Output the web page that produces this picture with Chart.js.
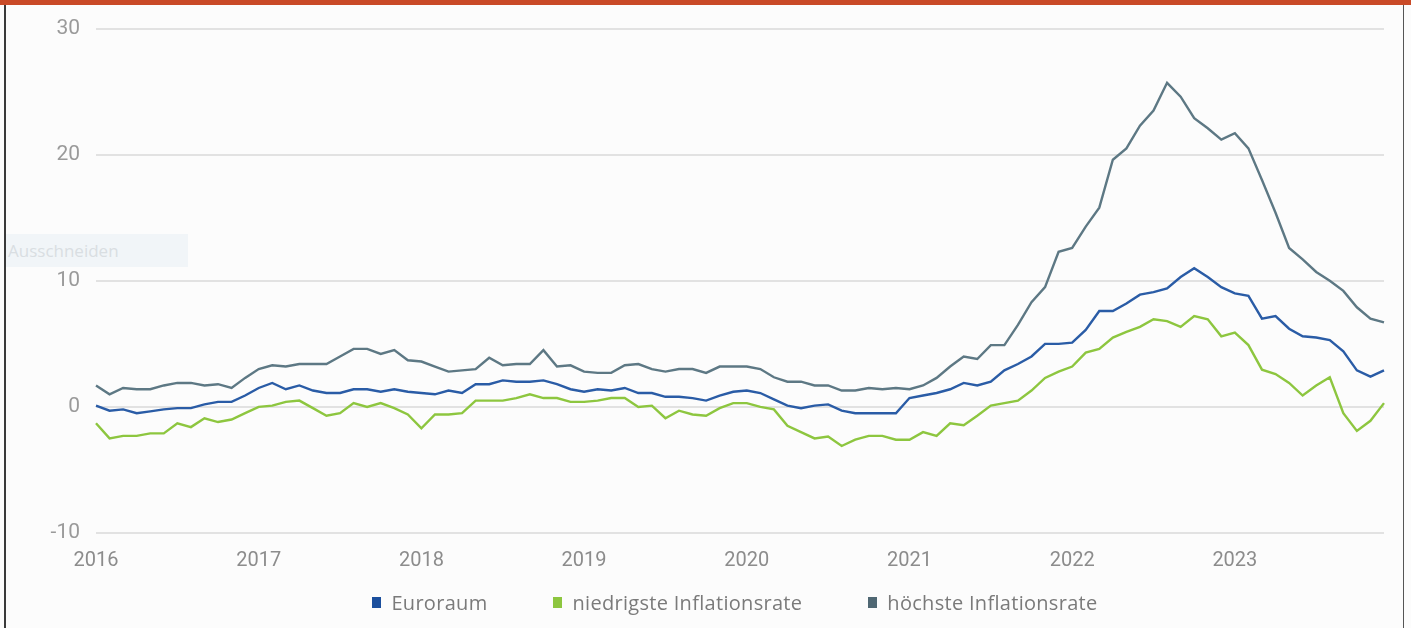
<!DOCTYPE html>
<html>
<head>
<meta charset="utf-8">
<script src="https://cdn.jsdelivr.net/npm/chart.js@4/dist/chart.umd.min.js"></script>
<style>
  html, body { margin: 0; padding: 0; background: #ffffff; }
  #frame { position: relative; width: 1411px; height: 628px; background: #fcfcfc; overflow: hidden; }
  #topbar { position: absolute; left: 0; top: 0; width: 1411px; height: 5px; background: #c94a27; }
  #lborder { position: absolute; left: 4px; top: 5px; width: 2px; height: 623px; background: #3a3a3a; }
  #rborder { position: absolute; left: 1403px; top: 5px; width: 1px; height: 623px; background: #555; }
  #cut { position: absolute; left: 6px; top: 234px; width: 182px; height: 33px; background: #f1f5f8;
         font-family: "Open Sans", sans-serif; font-size: 17px; color: #d9dee2; line-height: 33px; padding-left: 2px; box-sizing: border-box; }
  canvas { position: absolute; left: 0; top: 0; }
  #legend { position: absolute; left: 91px; width: 1288px; top: 589px; display: flex; justify-content: center;
            font-family: "Open Sans", sans-serif; font-size: 20px; letter-spacing: 0.3px; color: #7a7a7a; }
  .item { display: flex; align-items: center; margin: 0 33px; white-space: nowrap; }
  .box { width: 9px; height: 11px; margin-right: 10px; }
</style>
</head>
<body>
<div id="frame">
  <div id="topbar"></div>
  <div id="lborder"></div>
  <div id="rborder"></div>
  <canvas id="c" width="1411" height="628"></canvas>
  <div id="cut">Ausschneiden</div>
  <div id="legend"></div>
</div>
<script>
// ---- data (monthly, Jan 2016 - Dec 2023) ----
const years = ["2016","2017","2018","2019","2020","2021","2022","2023"];
const months = ["01","02","03","04","05","06","07","08","09","10","11","12"];
const yTicks = [-10, 0, 10, 20, 30];
const seriesNames = ["Euroraum", "niedrigste Inflationsrate", "höchste Inflationsrate"];

const euroraum = [
  0.1,-0.3,-0.2,-0.5,-0.35,-0.2,-0.1,-0.1,0.2,0.4,0.4,0.9,
  1.5,1.9,1.4,1.7,1.3,1.1,1.1,1.4,1.4,1.2,1.4,1.2,
  1.1,1.0,1.3,1.1,1.8,1.8,2.1,2.0,2.0,2.1,1.8,1.4,
  1.2,1.4,1.3,1.5,1.1,1.1,0.8,0.8,0.7,0.5,0.9,1.2,
  1.3,1.1,0.6,0.1,-0.1,0.1,0.2,-0.3,-0.5,-0.5,-0.5,-0.5,
  0.7,0.9,1.1,1.4,1.9,1.7,2.0,2.9,3.4,4.0,5.0,5.0,
  5.1,6.1,7.6,7.6,8.2,8.9,9.1,9.4,10.3,11.0,10.3,9.5,
  9.0,8.8,7.0,7.2,6.2,5.6,5.5,5.3,4.4,2.9,2.4,2.9
];
const niedrigste = [
  -1.3,-2.5,-2.3,-2.3,-2.1,-2.1,-1.3,-1.6,-0.9,-1.2,-1.0,-0.5,
  0.0,0.1,0.4,0.5,-0.1,-0.7,-0.5,0.3,0.0,0.3,-0.1,-0.6,
  -1.7,-0.6,-0.6,-0.5,0.5,0.5,0.5,0.7,1.0,0.7,0.7,0.4,
  0.4,0.5,0.7,0.7,0.0,0.1,-0.9,-0.3,-0.6,-0.7,-0.1,0.3,
  0.3,0.0,-0.2,-1.5,-2.0,-2.5,-2.35,-3.1,-2.6,-2.3,-2.3,-2.6,
  -2.6,-2.0,-2.3,-1.3,-1.45,-0.7,0.1,0.3,0.5,1.3,2.3,2.8,
  3.2,4.3,4.6,5.5,5.95,6.35,6.95,6.8,6.35,7.2,6.95,5.6,
  5.9,4.9,2.95,2.6,1.9,0.9,1.7,2.35,-0.5,-1.9,-1.1,0.3
];
const hoechste = [
  1.7,1.0,1.5,1.4,1.4,1.7,1.9,1.9,1.7,1.8,1.5,2.3,
  3.0,3.3,3.2,3.4,3.4,3.4,4.0,4.6,4.6,4.2,4.5,3.7,
  3.6,3.2,2.8,2.9,3.0,3.9,3.3,3.4,3.4,4.5,3.2,3.3,
  2.8,2.7,2.7,3.3,3.4,3.0,2.8,3.0,3.0,2.7,3.2,3.2,
  3.2,3.0,2.35,2.0,2.0,1.7,1.7,1.3,1.3,1.5,1.4,1.5,
  1.4,1.7,2.3,3.2,4.0,3.8,4.9,4.9,6.5,8.3,9.5,12.3,
  12.6,14.3,15.8,19.6,20.5,22.3,23.5,25.7,24.6,22.9,22.1,21.2,
  21.7,20.5,18.0,15.4,12.6,11.7,10.7,10.0,9.2,7.9,7.0,6.7
];
const seriesColors = ["#2a5ca6", "#8dc63f", "#5d7884"];
const legendColors = ["#1b4f9d", "#8dc63f", "#4f6773"];

// categories built from year/month labels
const categories = [];
years.forEach(y => months.forEach(m => categories.push(y + "-" + m)));

const ctx = document.getElementById("c").getContext("2d");
const chart = new Chart(ctx, {
  type: "line",
  data: {
    labels: categories,
    datasets: [
      { label: seriesNames[0], data: euroraum, borderColor: seriesColors[0], backgroundColor: seriesColors[0] },
      { label: seriesNames[1], data: niedrigste, borderColor: seriesColors[1], backgroundColor: seriesColors[1] },
      { label: seriesNames[2], data: hoechste, borderColor: seriesColors[2], backgroundColor: seriesColors[2] }
    ]
  },
  options: {
    responsive: false,
    animation: false,
    events: [],
    elements: {
      line: { borderWidth: 2.4, tension: 0 },
      point: { radius: 0 }
    },
    layout: { padding: { left: 36, right: 27, top: 27, bottom: 45 } },
    plugins: { legend: { display: false }, tooltip: { enabled: false } },
    scales: {
      x: {
        type: "category",
        offset: false,
        afterFit: function(s) { s.height = 50; },
        grid: { display: false, drawTicks: false },
        border: { display: false },
        ticks: {
          autoSkip: false, maxRotation: 0, minRotation: 0, padding: 16,
          color: "#8c8c8c", font: { family: "Roboto", size: 20 },
          callback: function(v, i) { return (i % 12 === 0) ? categories[i].slice(0, 4) : ""; }
        }
      },
      y: {
        min: yTicks[0], max: yTicks[yTicks.length - 1],
        afterFit: function(s) { s.width = 60; },
        afterBuildTicks: function(s) { s.ticks = yTicks.map(v => ({ value: v })); },
        grid: { color: "#e2e2e2", lineWidth: 2, drawTicks: false },
        border: { display: false },
        ticks: { padding: 16, color: "#9a9a9a", font: { family: "Roboto", size: 21 } }
      }
    }
  }
});

// legend from datasets
const lg = document.getElementById("legend");
chart.data.datasets.forEach((ds, i) => {
  const it = document.createElement("div"); it.className = "item";
  const b = document.createElement("span"); b.className = "box"; b.style.background = legendColors[i];
  const t = document.createElement("span"); t.textContent = ds.label;
  it.appendChild(b); it.appendChild(t); lg.appendChild(it);
});
</script>
</body>
</html>
